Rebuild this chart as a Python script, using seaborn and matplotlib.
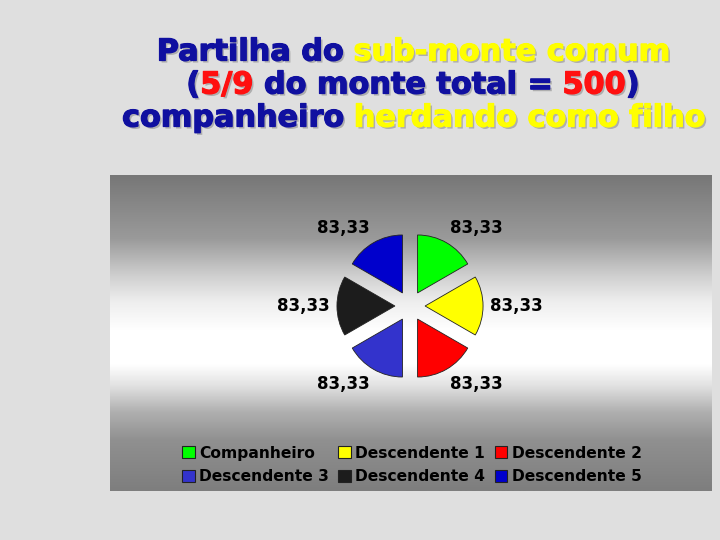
import numpy as np
import matplotlib
matplotlib.use("Agg")
import matplotlib.pyplot as plt
import matplotlib.patheffects as pe
from matplotlib.patches import Patch
from matplotlib.colors import LinearSegmentedColormap
import seaborn as sns

# ===================== Data =====================
herdeiros = ["Companheiro", "Descendente 1", "Descendente 2",
             "Descendente 3", "Descendente 4", "Descendente 5"]
quotas = [83.33, 83.33, 83.33, 83.33, 83.33, 83.33]
cores = ["#00ff00", "#ffff00", "#ff0000", "#3333cc", "#1c1c1c", "#0000cc"]

AZUL, AMARELO, VERMELHO = "#1010a0", "#ffff00", "#ff1010"
titulo = [
    [("Partilha do ", AZUL), ("sub-monte comum", AMARELO)],
    [("(", AZUL), ("5/9", VERMELHO), (" do monte total = ", AZUL), ("500", VERMELHO), (")", AZUL)],
    [("companheiro ", AZUL), ("herdando como filho", AMARELO)],
]

# ===================== Figure =====================
sns.set_theme(style="white")
plt.rcParams["font.family"] = ["DejaVu Sans"]
W, H = 720, 540
fig = plt.figure(figsize=(7.2, 5.4), dpi=100, facecolor="#dfdfdf")

def px_box(x0, y0, x1, y1):
    return [x0 / W, 1 - y1 / H, (x1 - x0) / W, (y1 - y0) / H]

# panel with vertical gradient
panel = fig.add_axes(px_box(110, 175, 712, 491))
grad = LinearSegmentedColormap.from_list("painel", [
    (0.0, "#777777"), (0.2, "#9a9a9a"), (0.32, "#d0d0d0"),
    (0.40, "#eeeeee"), (0.49, "#ffffff"), (0.6, "#ffffff"),
    (0.67, "#e0e0e0"), (0.75, "#b0b0b0"), (0.84, "#909090"),
    (1.0, "#7e7e7e")])
panel.imshow(np.linspace(0, 1, 256).reshape(-1, 1), aspect="auto", cmap=grad,
             extent=[0, 1, 0, 1])
panel.axis("off")

# pie
ax = fig.add_axes(px_box(290, 186, 530, 426))
ax.patch.set_alpha(0)
lbls = [f"{v:.2f}".replace(".", ",") for v in quotas]
wedges, texts = ax.pie(quotas, labels=lbls, colors=cores, startangle=90,
                       counterclock=False, explode=[0.26] * len(quotas),
                       labeldistance=1.12,
                       wedgeprops=dict(edgecolor="#222222", linewidth=0.6),
                       textprops=dict(fontsize=12, fontweight="bold", color="black"))
for t in texts:
    x, y = t.get_position()
    if y > 0.3:
        t.set_va("bottom")
    elif y < -0.3:
        t.set_va("top")
ax.set_xlim(-2.07, 2.07)
ax.set_ylim(-2.07, 2.07)
ax.axis("off")

# legend (row order like the original)
handles = [Patch(facecolor=c, edgecolor="#222222", linewidth=0.8, label=n)
           for n, c in zip(herdeiros, cores)]
order = [0, 3, 1, 4, 2, 5]
fig.legend([handles[i] for i in order], [herdeiros[i] for i in order],
           ncol=3, loc="center", bbox_to_anchor=(412 / W, 1 - 465 / H),
           frameon=False, handlelength=0.8, handleheight=0.8,
           handletextpad=0.3, columnspacing=0.6, labelspacing=0.55,
           labelcolor="black", prop=dict(size=11.2, weight="bold"))

# multi-colour title with shadow
renderer = fig.canvas.get_renderer()
fs = 21.8

def largura(s):
    t = fig.text(0, 0, s + "|", fontsize=fs, fontweight="bold")
    w = t.get_window_extent(renderer).width
    t.remove()
    t = fig.text(0, 0, "|", fontsize=fs, fontweight="bold")
    w -= t.get_window_extent(renderer).width
    t.remove()
    return w

for i, linha in enumerate(titulo):
    y = 52 + 33 * i
    total = largura("".join(s for s, _ in linha))
    x = 413 - total / 2
    prefixo = ""
    for s, c in linha:
        x0 = x + largura(prefixo) if prefixo else x
        efeitos = [pe.withSimplePatchShadow(offset=(1.5, -1.5), shadow_rgbFace="#9a9a9a", alpha=0.7),
                   pe.withStroke(linewidth=0.9, foreground=c)]
        fig.text(x0 / W, 1 - y / H, s, fontsize=fs, fontweight="bold", color=c,
                 ha="left", va="center", path_effects=efeitos)
        prefixo += s

fig.savefig("out.png", dpi=100, facecolor=fig.get_facecolor())
